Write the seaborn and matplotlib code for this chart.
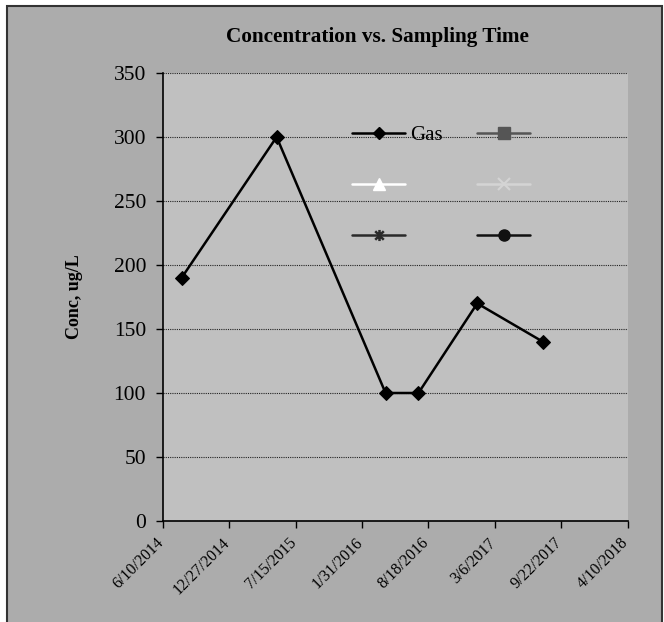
import numpy as np
import pandas as pd
import matplotlib
matplotlib.use("Agg")
import matplotlib.pyplot as plt
import matplotlib.transforms as mtransforms
from matplotlib.lines import Line2D
from matplotlib.patches import Rectangle
from matplotlib.path import Path
import seaborn as sns

# data
sample_dates = ["2014-08-06", "2015-05-19", "2016-04-11", "2016-07-19", "2017-01-12", "2017-07-29"]
gas_conc = [190, 300, 100, 100, 170, 140]

tick_dates = ["2014-06-10", "2014-12-27", "2015-07-15", "2016-01-31",
              "2016-08-18", "2017-03-06", "2017-09-22", "2018-04-10"]
tick_labels = ["6/10/2014", "12/27/2014", "7/15/2015", "1/31/2016",
               "8/18/2016", "3/6/2017", "9/22/2017", "4/10/2018"]
y_ticks = [0, 50, 100, 150, 200, 250, 300, 350]

df = pd.DataFrame({"date": pd.to_datetime(sample_dates), "conc": gas_conc})

sns.set_style("white")
plt.rcParams["font.family"] = ["Liberation Serif", "DejaVu Serif"]
plt.rcParams["text.color"] = "black"
plt.rcParams["axes.labelcolor"] = "black"
plt.rcParams["xtick.color"] = "black"
plt.rcParams["ytick.color"] = "black"

W, H = 664, 622
fig = plt.figure(figsize=(W / 100, H / 100), dpi=100, facecolor="white")

# outer chart area with border
fig.patches.append(Rectangle((7 / W, -0.01), (662 - 7) / W, (H - 6) / H + 0.01,
                             transform=fig.transFigure, facecolor="#acacac",
                             edgecolor="#333333", linewidth=1.5, zorder=-5))

ax = fig.add_axes([162.7 / W, (H - 521) / H, 465 / W, 448 / H])
ax.set_zorder(2)
ax.set_facecolor("#c0c0c0")

sns.lineplot(data=df, x="date", y="conc", ax=ax, color="black", linewidth=1.8,
             marker="D", markersize=7, markeredgecolor="black", label="Gas",
             legend=False)

ax.set_xlim(pd.Timestamp(tick_dates[0]), pd.Timestamp(tick_dates[-1]))
ax.set_ylim(0, 350)
ax.set_yticks(y_ticks)
ax.set_xticks(pd.to_datetime(tick_dates))
ax.set_xticklabels(tick_labels, rotation=45, ha="right", fontsize=11.5)
ax.tick_params(axis="y", labelsize=15.5, length=5, width=1, direction="out", pad=7, left=True)
ax.tick_params(axis="x", length=5, width=1, direction="out", pad=5, bottom=True)
shift = mtransforms.ScaledTranslation(4 / 100, 0, fig.dpi_scale_trans)
for lbl in ax.get_xticklabels():
    lbl.set_transform(lbl.get_transform() + shift)

ax.grid(axis="y", color="#222222", linestyle=(0, (1, 1)), linewidth=0.8)
ax.grid(axis="x", visible=False)
ax.set_axisbelow(True)

for side in ["top", "right"]:
    ax.spines[side].set_visible(False)
for side in ["left", "bottom"]:
    ax.spines[side].set_color("black")
    ax.spines[side].set_linewidth(1.2)

ax.set_xlabel("")
ax.set_ylabel("Conc, ug/L", fontsize=13, fontweight="bold")
ax.yaxis.set_label_coords(-0.171, 0.5)

fig.text(377.5 / W, (H - 37) / H, "Concentration vs. Sampling Time",
         fontsize=15.3, fontweight="bold", ha="center", va="center")

# star marker like the spreadsheet one: an x with a vertical stroke
star = Path([(-1, -1), (1, 1), (-1, 1), (1, -1), (0, -1.3), (0, 1.3)],
            [Path.MOVETO, Path.LINETO, Path.MOVETO, Path.LINETO, Path.MOVETO, Path.LINETO])

# legend: Gas plus the empty series from the original workbook
handles = [
    Line2D([], [], color="black", lw=1.8, marker="D", ms=6),
    Line2D([], [], color="white", lw=1.8, marker="^", ms=8),
    Line2D([], [], color="#2a2a2a", lw=1.8, marker=star, ms=8, mew=1.8),
    Line2D([], [], color="#555555", lw=1.8, marker="s", ms=8),
    Line2D([], [], color="#d4d4d4", lw=1.8, marker="x", ms=8, mew=1.5),
    Line2D([], [], color="#111111", lw=1.8, marker="o", ms=8),
]
labels = ["Gas", "", "", "", "", ""]
ax.legend(handles, labels, ncol=2, loc="upper left", bbox_to_anchor=(0.407, 0.882),
          frameon=False, fontsize=15, handlelength=2.55, handletextpad=0.25,
          labelspacing=1.5, columnspacing=1.65, borderpad=0, borderaxespad=0)

plt.savefig("out.png", dpi=100, facecolor=fig.get_facecolor())
